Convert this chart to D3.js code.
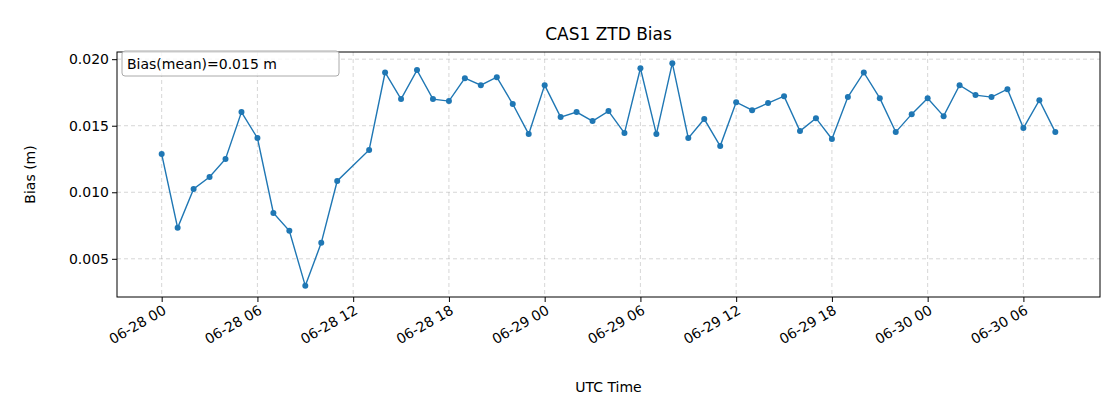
<!DOCTYPE html>
<html><head><meta charset="utf-8">
<script src="https://cdn.jsdelivr.net/npm/d3@7"></script>
<style>body{margin:0;background:#fff}text{font-family:"DejaVu Sans",sans-serif}</style>
</head><body><svg id="c" width="1120" height="420"></svg>
<script>
// hours since 06-28 00 UTC (hour 12 missing)
const hours = [0,1,2,3,4,5,6,7,8,9,10,11,13,14,15,16,17,18,19,20,21,22,23,24,25,26,27,28,29,30,31,32,33,34,35,36,37,38,39,40,41,42,43,44,45,46,47,48,49,50,51,52,53,54,55,56];
const bias = [0.01287,0.00733,0.01025,0.01115,0.0125,0.01603,0.01407,0.00845,0.0071,0.00297,0.0062,0.01085,0.01318,0.019,0.017,0.01918,0.017,0.01685,0.01857,0.01805,0.01865,0.01663,0.01437,0.01805,0.01565,0.01603,0.01535,0.0161,0.01445,0.01932,0.01437,0.0197,0.01407,0.0155,0.01347,0.01677,0.01617,0.0167,0.01722,0.0146,0.01557,0.014,0.01715,0.019,0.01707,0.01452,0.01587,0.01707,0.01572,0.01805,0.0173,0.01715,0.01775,0.01482,0.01692,0.01452];
const xTicks = [0,6,12,18,24,30,36,42,48,54];
const xTickLabels = ["06-28 00","06-28 06","06-28 12","06-28 18","06-29 00","06-29 06","06-29 12","06-29 18","06-30 00","06-30 06"];
const yTicks = [0.005,0.010,0.015,0.020];

const L=117,R=1100,T=52,B=297;
const svg=d3.select("#c");
const x=d3.scaleLinear().domain([-2.8,58.8]).range([L,R]);
const y=d3.scaleLinear().domain([0.00213,0.02054]).range([B,T]);
const blue="#1f77b4";

const g=svg.append("g");
xTicks.forEach(t=>g.append("line").attr("x1",x(t)).attr("x2",x(t)).attr("y1",T).attr("y2",B)
  .attr("stroke","#b0b0b0").attr("stroke-opacity",0.5).attr("stroke-dasharray","4,3"));
yTicks.forEach(t=>g.append("line").attr("x1",L).attr("x2",R).attr("y1",y(t)).attr("y2",y(t))
  .attr("stroke","#b0b0b0").attr("stroke-opacity",0.5).attr("stroke-dasharray","4,3"));

const data=hours.map((h,i)=>[h,bias[i]]);
svg.append("path").datum(data).attr("fill","none").attr("stroke",blue).attr("stroke-width",1.4)
  .attr("d",d3.line().x(d=>x(d[0])).y(d=>y(d[1])));
svg.selectAll("circle.p").data(data).join("circle").attr("cx",d=>x(d[0])).attr("cy",d=>y(d[1]))
  .attr("r",3).attr("fill",blue);

const xa=svg.append("g").attr("transform",`translate(0,${B})`)
  .call(d3.axisBottom(x).tickValues(xTicks).tickFormat((d,i)=>xTickLabels[i]).tickSizeOuter(0).tickSize(5));
xa.selectAll("text").attr("font-size",14).attr("fill","#000").attr("text-anchor","end")
  .attr("x",0).attr("y",0).attr("dy",0).attr("transform","translate(5,16) rotate(-30)");
const ya=svg.append("g").attr("transform",`translate(${L},0)`)
  .call(d3.axisLeft(y).tickValues(yTicks).tickFormat(d3.format(".3f")).tickSizeOuter(0).tickSize(5));
ya.selectAll("text").attr("font-size",14).attr("fill","#000");
[xa,ya].forEach(a=>{a.select(".domain").remove();a.selectAll("line").attr("stroke","#000")});
svg.append("rect").attr("x",L).attr("y",T).attr("width",R-L).attr("height",B-T)
  .attr("fill","none").attr("stroke","#000").attr("stroke-width",1);

svg.append("text").attr("x",(L+R)/2).attr("y",40).attr("text-anchor","middle").attr("font-size",17).text("CAS1 ZTD Bias");
svg.append("text").attr("x",(L+R)/2).attr("y",392).attr("text-anchor","middle").attr("font-size",14).text("UTC Time");
svg.append("text").attr("transform",`translate(35,${(T+B)/2}) rotate(-90)`).attr("text-anchor","middle").attr("font-size",14).text("Bias (m)");

svg.append("rect").attr("x",122).attr("y",51).attr("width",217).attr("height",25).attr("rx",3)
  .attr("fill","#fff").attr("fill-opacity",0.8).attr("stroke","#aaa");
svg.append("text").attr("x",127).attr("y",69).attr("font-size",14).text("Bias(mean)=0.015 m");
</script></body></html>
